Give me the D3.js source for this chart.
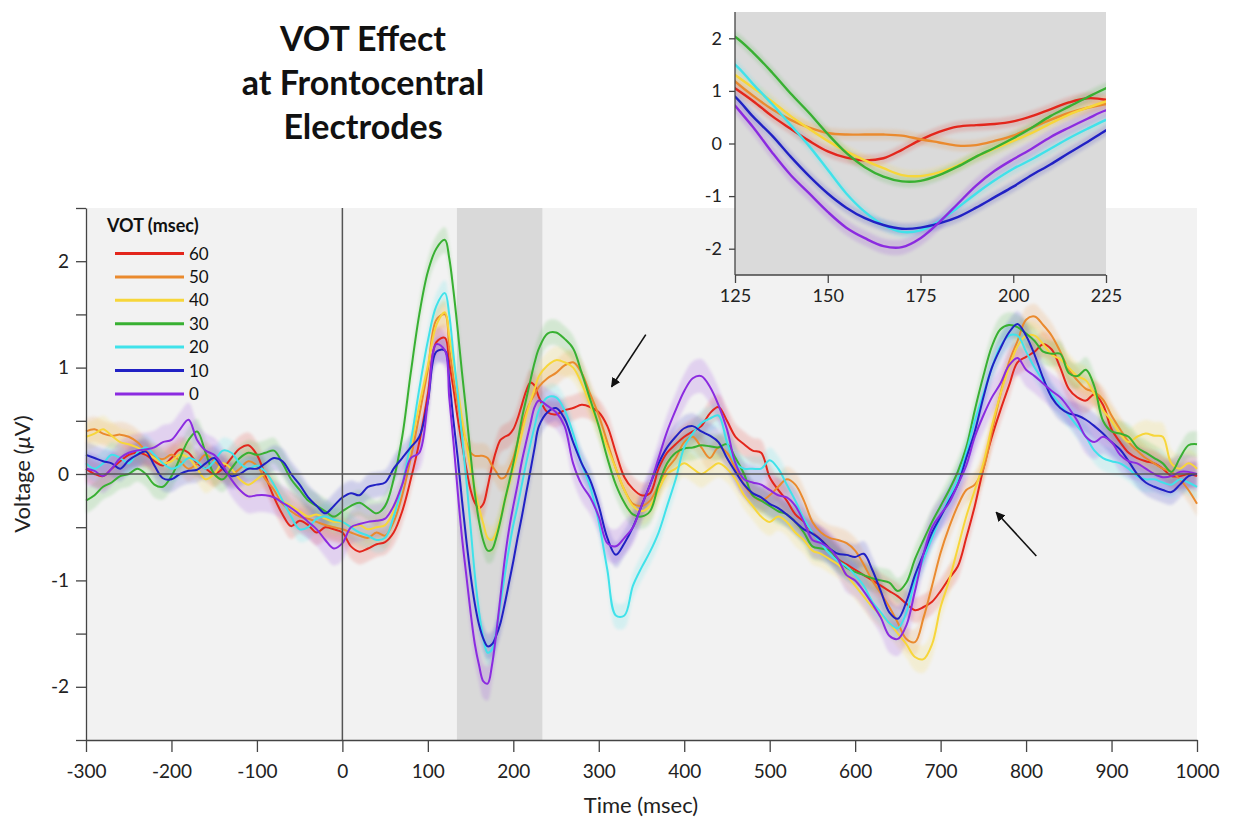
<!DOCTYPE html>
<html>
<head>
<meta charset="utf-8">
<script src="https://cdn.jsdelivr.net/npm/d3@7"></script>
<style>
  body { margin: 0; background: #fff; }
  svg { display: block; font-family: Lato, "Open Sans", "DejaVu Sans", sans-serif; }
</style>
</head>
<body>
<svg id="chart" width="1233" height="821"></svg>
<script>
// Sample times (ms): 10 ms grid, 5 ms grid inside the analysis window
const times = [].concat(d3.range(-300, 121, 10), d3.range(125, 226, 5), d3.range(230, 1001, 10));

const votLabels = ["60", "50", "40", "30", "20", "10", "0"];
const votColors = ["#e3261c", "#ea8a2e", "#f7d63a", "#38b032", "#40e2ea", "#2121c4", "#8b2be0"];
const votStdErr = [0.12, 0.12, 0.13, 0.12, 0.12, 0.12, 0.16];

// Grand-average voltage (µV), one array per VOT condition
const vot60 = [
  0.05, 0.0, -0.02, 0.05, 0.12, 0.18, 0.2, 0.18, 0.12, 0.08,
  0.15, 0.23, 0.2, 0.1, 0.05, 0.0, 0.05, 0.15, 0.24, 0.27,
  0.18, -0.02, -0.22, -0.38, -0.49, -0.44, -0.48, -0.55, -0.5, -0.52,
  -0.55, -0.68, -0.73, -0.7, -0.66, -0.64, -0.55, -0.35, -0.05, 0.3,
  0.75, 1.24, 1.28,
  1.05, 0.8, 0.52, 0.28, 0.05, -0.15, -0.27, -0.32, -0.28, -0.12, 0.07, 0.22, 0.32, 0.35, 0.37, 0.42, 0.52, 0.65, 0.78, 0.86, 0.83,
  0.72, 0.58, 0.56, 0.6, 0.62, 0.65, 0.63, 0.58, 0.45, 0.2,
  -0.03, -0.14, -0.2, -0.18, 0.05, 0.2, 0.28, 0.35, 0.4, 0.45,
  0.57, 0.63, 0.5, 0.35, 0.28, 0.22, 0.2, -0.03, -0.15, -0.25,
  -0.38, -0.45, -0.55, -0.62, -0.7, -0.8, -0.85, -0.9, -0.95, -1.0,
  -1.05, -1.1, -1.15, -1.22, -1.28, -1.25, -1.2, -1.1, -0.98, -0.87,
  -0.6, -0.3, 0.05, 0.35, 0.6, 0.83, 1.05, 1.1, 1.15, 1.22,
  1.17, 1.0, 0.8, 0.72, 0.69, 0.75, 0.65, 0.42, 0.3, 0.2,
  0.15, 0.12, 0.1, 0.05, -0.02, -0.02, 0.0, -0.02
];
const vot50 = [
  0.4, 0.42, 0.38, 0.36, 0.37, 0.35, 0.3, 0.22, 0.16, 0.14,
  0.18, 0.12, 0.05, 0.1, 0.18, 0.12, 0.05, 0.0, 0.05, 0.12,
  0.08, -0.05, -0.15, -0.28, -0.35, -0.4, -0.42, -0.45, -0.48, -0.5,
  -0.52, -0.55, -0.58, -0.6, -0.55, -0.58, -0.45, -0.2, 0.15, 0.55,
  0.98, 1.45, 1.5,
  1.18, 0.9, 0.65, 0.45, 0.3, 0.2, 0.17, 0.17, 0.17, 0.15, 0.08, 0.02, -0.04, -0.03, 0.05, 0.15, 0.3, 0.45, 0.58, 0.68, 0.75,
  0.82, 0.9, 0.95, 1.02, 1.05, 0.95, 0.75, 0.55, 0.3, 0.05,
  -0.15, -0.28, -0.3, -0.25, -0.1, 0.05, 0.15, 0.3, 0.35, 0.25,
  0.15, 0.25, 0.2, 0.05, -0.1, -0.2, -0.25, -0.2, -0.12, -0.05,
  -0.1, -0.25, -0.45, -0.55, -0.6, -0.62, -0.65, -0.72, -0.85, -1.0,
  -1.12, -1.25, -1.4, -1.55, -1.58, -1.35, -1.05, -0.74, -0.5, -0.3,
  -0.15, -0.1, 0.05, 0.4, 0.75, 1.05, 1.25, 1.45, 1.48, 1.4,
  1.3, 1.15, 0.98, 0.88, 0.8, 0.77, 0.7, 0.55, 0.42, 0.3,
  0.22, 0.15, 0.1, 0.05, 0.02, -0.05, -0.15, -0.28
];
const vot40 = [
  0.35, 0.38, 0.42, 0.36, 0.3, 0.28, 0.25, 0.2, 0.15, 0.1,
  0.12, 0.18, 0.15, 0.05, -0.05, 0.0, 0.1, 0.05, -0.05, -0.1,
  -0.05, 0.0, -0.1, -0.25, -0.3, -0.35, -0.4, -0.38, -0.42, -0.45,
  -0.45, -0.5, -0.48, -0.52, -0.5, -0.48, -0.35, -0.1, 0.25, 0.65,
  1.02, 1.4, 1.52,
  1.3, 1.05, 0.8, 0.52, 0.28, 0.05, -0.15, -0.32, -0.47, -0.6, -0.62, -0.55, -0.42, -0.25, -0.1, 0.05, 0.2, 0.38, 0.55, 0.68, 0.8,
  0.92, 1.02, 1.07, 1.05, 1.0, 0.85, 0.65, 0.45, 0.25, 0.05,
  -0.15, -0.3, -0.35, -0.3, -0.15, 0.0, 0.05, 0.1, 0.05, 0.0,
  0.05, 0.1, 0.05, -0.05, -0.2, -0.3, -0.4, -0.45, -0.4, -0.45,
  -0.55, -0.62, -0.72, -0.75, -0.8, -0.85, -0.95, -1.05, -1.15, -1.25,
  -1.32, -1.4, -1.5, -1.6, -1.72, -1.74, -1.6, -1.25, -1.0, -0.7,
  -0.4, -0.15, 0.1, 0.45, 0.75, 1.0, 1.2, 1.3, 1.3, 1.22,
  1.12, 1.08, 1.0, 0.92, 0.88, 0.75, 0.6, 0.5, 0.38, 0.3,
  0.35, 0.38, 0.36, 0.35, 0.1, 0.05, 0.1, 0.05
];
const vot30 = [
  -0.25, -0.2, -0.12, -0.08, -0.02, 0.0, 0.05, 0.0, -0.1, -0.12,
  -0.02, 0.15, 0.32, 0.4, 0.2, 0.0, -0.05, 0.05, 0.15, 0.2,
  0.18, 0.2, 0.22, 0.1, -0.05, -0.15, -0.25, -0.3, -0.35, -0.4,
  -0.35, -0.3, -0.27, -0.32, -0.37, -0.3, -0.05, 0.35, 0.95, 1.5,
  1.9, 2.12, 2.2,
  2.03, 1.72, 1.35, 0.95, 0.58, 0.18, -0.18, -0.45, -0.63, -0.72, -0.71, -0.6, -0.44, -0.25, -0.08, 0.1, 0.3, 0.52, 0.7, 0.88, 1.05,
  1.18, 1.32, 1.33, 1.27, 1.18, 0.95, 0.7, 0.45, 0.15, -0.1,
  -0.27, -0.38, -0.4, -0.35, -0.1, 0.1, 0.2, 0.24, 0.25, 0.27,
  0.26, 0.25, 0.28, 0.15, 0.0, -0.2, -0.25, -0.3, -0.35, -0.38,
  -0.45, -0.55, -0.68, -0.7, -0.72, -0.8, -0.88, -0.92, -0.95, -0.98,
  -1.0, -1.02, -1.1, -1.02, -0.8, -0.62, -0.45, -0.3, -0.15, 0.02,
  0.25, 0.6, 0.92, 1.2, 1.36, 1.4, 1.38, 1.32, 1.25, 1.15,
  1.13, 1.13, 0.95, 0.92, 0.98, 0.82, 0.5, 0.4, 0.38, 0.35,
  0.25, 0.2, 0.15, 0.1, 0.02, 0.15, 0.27, 0.28
];
const vot20 = [
  0.1, 0.05, 0.1, 0.18, 0.15, 0.1, 0.2, 0.25, 0.18, 0.1,
  0.05, 0.08, 0.15, 0.12, 0.05, 0.12, 0.22, 0.2, 0.1, 0.05,
  0.08, 0.02, -0.1, -0.25, -0.4, -0.52, -0.5, -0.42, -0.4, -0.43,
  -0.45, -0.5, -0.55, -0.58, -0.62, -0.6, -0.4, -0.1, 0.3, 0.8,
  1.25, 1.58, 1.7,
  1.5, 1.12, 0.75, 0.35, -0.05, -0.5, -0.95, -1.3, -1.55, -1.68, -1.65, -1.48, -1.22, -0.95, -0.7, -0.48, -0.3, -0.1, 0.1, 0.28, 0.45,
  0.6, 0.72, 0.72, 0.6, 0.38, 0.1, -0.12, -0.45, -0.9, -1.33,
  -1.33, -1.05, -0.88, -0.73, -0.55, -0.3, -0.05, 0.25, 0.38, 0.48,
  0.52, 0.55, 0.3, 0.1, 0.05, 0.05, 0.05, 0.13, 0.05, -0.1,
  -0.25, -0.42, -0.55, -0.65, -0.75, -0.82, -0.87, -0.95, -1.05, -1.2,
  -1.3, -1.4, -1.45, -1.3, -1.0, -0.8, -0.6, -0.4, -0.22, -0.05,
  0.2, 0.5, 0.75, 1.0, 1.2, 1.3, 1.3, 1.15, 1.0, 0.88,
  0.75, 0.65, 0.55, 0.45, 0.35, 0.22, 0.15, 0.12, 0.1, 0.05,
  -0.02, -0.05, -0.05, -0.08, -0.1, -0.05, -0.08, -0.12
];
const vot10 = [
  0.18, 0.15, 0.12, 0.1, 0.05, 0.13, 0.18, 0.21, 0.08, -0.04,
  -0.05, 0.0, 0.03, 0.04, 0.1, 0.15, 0.05, -0.02, 0.0, 0.05,
  0.05, 0.1, 0.15, 0.12, 0.0, -0.1, -0.22, -0.3, -0.37, -0.3,
  -0.22, -0.18, -0.2, -0.12, -0.1, -0.08, 0.05, 0.15, 0.25, 0.35,
  0.68, 1.15, 1.16,
  0.89, 0.5, 0.15, -0.25, -0.62, -0.95, -1.22, -1.42, -1.55, -1.62, -1.6, -1.52, -1.4, -1.22, -1.02, -0.82, -0.6, -0.4, -0.18, 0.03, 0.25,
  0.45, 0.58, 0.62, 0.52, 0.3, 0.1, -0.06, -0.3, -0.6, -0.76,
  -0.65, -0.5, -0.3, -0.1, 0.1, 0.25, 0.35, 0.43, 0.45, 0.4,
  0.36, 0.3, 0.15, 0.02, -0.1, -0.18, -0.22, -0.28, -0.32, -0.38,
  -0.45, -0.52, -0.56, -0.62, -0.7, -0.75, -0.76, -0.78, -0.75, -0.9,
  -1.1, -1.3, -1.36, -1.2, -0.95, -0.75, -0.55, -0.4, -0.25, -0.1,
  0.15, 0.4, 0.72, 1.0, 1.18, 1.33, 1.41, 1.3, 1.12, 0.9,
  0.72, 0.62, 0.57, 0.55, 0.51, 0.45, 0.38, 0.3, 0.23, 0.12,
  0.0, -0.08, -0.12, -0.15, -0.17, -0.1, -0.02, 0.0
];
const vot0 = [
  0.05, 0.03, -0.02, 0.05, 0.15, 0.2, 0.22, 0.23, 0.25, 0.3,
  0.32, 0.42, 0.51, 0.32, 0.22, 0.18, 0.08, -0.05, -0.15, -0.21,
  -0.2, -0.2, -0.22, -0.27, -0.32, -0.38, -0.45, -0.52, -0.62, -0.7,
  -0.65, -0.5, -0.47, -0.45, -0.44, -0.42, -0.3, -0.1, 0.15, 0.2,
  0.68, 1.22, 1.16,
  0.72, 0.3, -0.17, -0.6, -0.95, -1.3, -1.6, -1.8, -1.95, -1.97, -1.8, -1.5, -1.15, -0.8, -0.52, -0.3, -0.1, 0.12, 0.3, 0.47, 0.63,
  0.69, 0.64, 0.58, 0.45, 0.1, -0.1, -0.22, -0.4, -0.65, -0.68,
  -0.6, -0.5, -0.3, -0.1, 0.15, 0.4, 0.6, 0.78, 0.9, 0.92,
  0.82, 0.65, 0.42, 0.1, -0.05, -0.08, -0.1, -0.15, -0.2, -0.22,
  -0.3, -0.45, -0.62, -0.65, -0.7, -0.8, -0.95, -1.0, -1.1, -1.22,
  -1.35, -1.52, -1.55, -1.42, -1.1, -0.75, -0.5, -0.38, -0.27, -0.1,
  0.08, 0.35, 0.55, 0.72, 0.85, 1.02, 1.09, 0.98, 0.92, 0.85,
  0.78, 0.72, 0.62, 0.5, 0.35, 0.3, 0.35, 0.3, 0.18, 0.12,
  0.1, 0.05, 0.0, -0.03, -0.02, 0.02, 0.02, 0.0
];

const xTicks = d3.range(-300, 1001, 100);
const yTicks = d3.range(-2.5, 2.51, 0.5);
const insetXTicks = [125, 150, 175, 200, 225];
const insetYTicks = [-2, -1, 0, 1, 2];
const analysisWindow = [134, 234];      // shaded interval (ms)
const insetWindow = [125, 225];         // zoomed interval (ms)
const titleLines = ["VOT Effect", "at Frontocentral", "Electrodes"];
// Arrow annotations in data units: [tail time, tail µV, tip time, tip µV]
const arrows = [[355, 1.31, 315, 0.82], [812, -0.77, 765, -0.36]];

const seriesValues = [vot60, vot50, vot40, vot30, vot20, vot10, vot0];
const series = votLabels.map((lab, i) => {
  if (seriesValues[i].length !== times.length) throw new Error("length " + lab + " " + seriesValues[i].length);
  return {
    label: lab, color: votColors[i], se: votStdErr[i],
    points: times.map((t, j) => ({ t, v: seriesValues[i][j] }))
  };
});

const svg = d3.select("#chart");
const defs = svg.append("defs");
defs.append("filter").attr("id", "soft").attr("x", "-5%").attr("y", "-5%").attr("width", "110%").attr("height", "110%")
  .append("feGaussianBlur").attr("stdDeviation", 1.6);
defs.append("marker").attr("id", "head").attr("viewBox", "0 0 10 10").attr("refX", 9).attr("refY", 5)
  .attr("markerWidth", 6).attr("markerHeight", 6).attr("orient", "auto")
  .append("path").attr("d", "M0,0 L10,5 L0,10 Z").attr("fill", "#111");

// ---------- main panel ----------
const x = d3.scaleLinear().domain([-300, 1000]).range([86, 1197]);
const y = d3.scaleLinear().domain([-2.5, 2.5]).range([740, 208]);

svg.append("rect").attr("x", x(-300)).attr("y", y(2.5))
  .attr("width", x(1000) - x(-300)).attr("height", y(-2.5) - y(2.5)).attr("fill", "#f2f2f2");
svg.append("rect").attr("x", x(analysisWindow[0])).attr("y", y(2.5))
  .attr("width", x(analysisWindow[1]) - x(analysisWindow[0])).attr("height", y(-2.5) - y(2.5)).attr("fill", "#d9d9d9");

const curve = d3.curveCatmullRom.alpha(0.5);
const band = (sx, sy) => d3.area().curve(curve).x(d => sx(d.t)).y0(d => sy(d.v - d.se)).y1(d => sy(d.v + d.se));
const line = (sx, sy) => d3.line().curve(curve).x(d => sx(d.t)).y(d => sy(d.v));

const mainG = svg.append("g");
mainG.selectAll(".band").data(series).join("path")
  .attr("d", s => band(x, y)(s.points.map(p => ({ ...p, se: s.se }))))
  .attr("fill", s => s.color).attr("opacity", 0.16).attr("filter", "url(#soft)");

// reference lines
svg.append("line").attr("x1", x(-300)).attr("x2", x(1000)).attr("y1", y(0)).attr("y2", y(0))
  .attr("stroke", "#555").attr("stroke-width", 1.5);
svg.append("line").attr("x1", x(0)).attr("x2", x(0)).attr("y1", y(2.5)).attr("y2", y(-2.5))
  .attr("stroke", "#555").attr("stroke-width", 1.5);

mainG.append("g").selectAll(".ln").data(series).join("path")
  .attr("d", s => line(x, y)(s.points)).attr("fill", "none")
  .attr("stroke", s => s.color).attr("stroke-width", 2).attr("stroke-linejoin", "round");

// axes
const xAxis = svg.append("g").attr("transform", `translate(0,${y(-2.5)})`)
  .call(d3.axisBottom(x).tickValues(xTicks).tickSize(12).tickSizeOuter(0).tickPadding(13).tickFormat(d => String(d)));
const yAxis = svg.append("g").attr("transform", `translate(${x(-300)},0)`)
  .call(d3.axisLeft(y).tickValues(yTicks).tickSize(10).tickSizeOuter(0).tickPadding(7)
    .tickFormat(d => Number.isInteger(d) ? String(d) : ""));
[xAxis, yAxis].forEach(a => {
  a.selectAll("path,line").attr("stroke", "#444").attr("stroke-width", 1.3);
  a.selectAll("text").attr("font-size", 19).attr("fill", "#222").attr("font-family", "Lato, sans-serif");
});

svg.append("text").attr("x", 641).attr("y", 813).attr("text-anchor", "middle")
  .attr("font-size", 22).attr("fill", "#222").text("Time (msec)");
const yl = svg.append("text").attr("transform", `translate(30,${y(0)}) rotate(-90)`)
  .attr("text-anchor", "middle").attr("font-size", 22).attr("fill", "#222");
yl.append("tspan").text("Voltage (");
yl.append("tspan").attr("font-style", "italic").text("\u03bc");
yl.append("tspan").text("V)");

// legend
const lg = svg.append("g");
lg.append("text").attr("x", 107).attr("y", 232).attr("font-size", 18).attr("font-weight", 700)
  .attr("fill", "#111").text("VOT (msec)");
const li = lg.selectAll(".li").data(series).join("g")
  .attr("transform", (d, i) => `translate(0,${253.5 + i * 23.4})`);
li.append("line").attr("x1", 115).attr("x2", 184).attr("stroke", d => d.color).attr("stroke-width", 3);
li.append("text").attr("x", 189).attr("y", 6).attr("font-size", 17).attr("fill", "#111").text(d => d.label);

// arrows
svg.selectAll(".arrow").data(arrows).join("line")
  .attr("x1", d => x(d[0])).attr("y1", d => y(d[1])).attr("x2", d => x(d[2])).attr("y2", d => y(d[3]))
  .attr("stroke", "#111").attr("stroke-width", 1.6).attr("marker-end", "url(#head)");

// title
svg.append("text").attr("text-anchor", "middle").attr("font-size", 34).attr("font-weight", 700).attr("fill", "#111")
  .selectAll("tspan").data(titleLines).join("tspan")
  .attr("x", 363).attr("y", (d, i) => 51 + i * 44).text(d => d);

// ---------- inset ----------
const xi = d3.scaleLinear().domain(insetWindow).range([735, 1106]);
const yi = d3.scaleLinear().domain([-2.5, 2.5]).range([275, 12]);
defs.append("clipPath").attr("id", "insetClip").append("rect")
  .attr("x", xi(125)).attr("y", yi(2.5)).attr("width", xi(225) - xi(125)).attr("height", yi(-2.5) - yi(2.5));
svg.append("rect").attr("x", xi(125)).attr("y", yi(2.5))
  .attr("width", xi(225) - xi(125)).attr("height", yi(-2.5) - yi(2.5)).attr("fill", "#dadada");
const insetG = svg.append("g").attr("clip-path", "url(#insetClip)");
const near = s => s.points.filter(p => p.t >= 110 && p.t <= 240);
insetG.selectAll(".iband").data(series).join("path")
  .attr("d", s => band(xi, yi)(near(s).map(p => ({ ...p, se: s.se * 0.9 }))))
  .attr("fill", s => s.color).attr("opacity", 0.16).attr("filter", "url(#soft)");
insetG.selectAll(".iln").data(series).join("path")
  .attr("d", s => line(xi, yi)(near(s))).attr("fill", "none")
  .attr("stroke", s => s.color).attr("stroke-width", 2.4);

const ixAxis = svg.append("g").attr("transform", `translate(0,${yi(-2.5)})`)
  .call(d3.axisBottom(xi).tickValues(insetXTicks).tickSize(8).tickSizeOuter(0).tickPadding(6));
const iyAxis = svg.append("g").attr("transform", `translate(${xi(125)},0)`)
  .call(d3.axisLeft(yi).tickValues(insetYTicks).tickSize(6).tickSizeOuter(0).tickPadding(7).tickFormat(d => String(d)));
ixAxis.select(".domain").attr("d", `M${xi(125)},0H${xi(225)}`);
iyAxis.select(".domain").attr("d", `M0,${yi(2.5)}V${yi(-2.5)}`);
[ixAxis, iyAxis].forEach(a => {
  a.selectAll("path,line").attr("stroke", "#444").attr("stroke-width", 1.3);
  a.selectAll("text").attr("font-size", 18).attr("fill", "#222").attr("font-family", "Lato, sans-serif");
});
</script>
</body>
</html>
